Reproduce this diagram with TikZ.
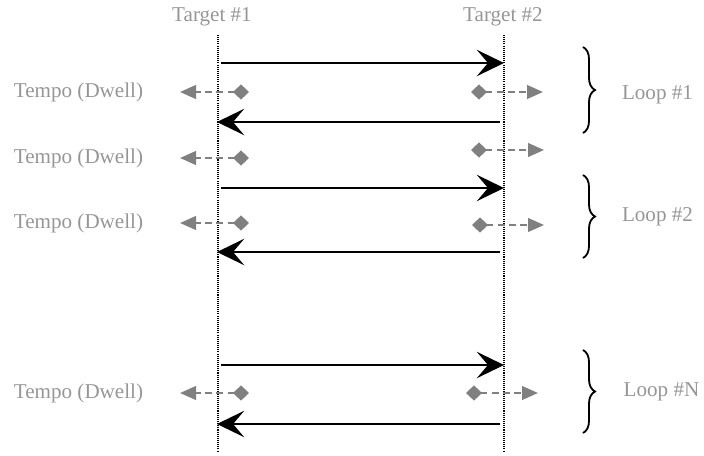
\documentclass[tikz,border=0pt]{standalone}
\usepackage{fontspec}
\setmainfont{Liberation Serif}
\usepackage{xcolor}
\usetikzlibrary{arrows.meta,decorations.pathreplacing}
\definecolor{dwelltext}{RGB}{150,150,150}
\definecolor{dwellgray}{RGB}{128,128,128}

\tikzset{
  lbl/.style={text=dwelltext, font=\fontsize{15}{18}\selectfont, inner sep=0pt},
  targetline/.style={line width=1.3pt, dash pattern=on 0.75pt off 0.75pt},
  move/.style={line width=1.4pt, -{Stealth[length=0.68cm, width=0.66cm, inset=0.28cm]}},
  dwell/.style={dwellgray, line width=1.6pt, dash pattern=on 5pt off 3pt,
    {Diamond[length=0.4cm, width=0.38cm]}-{Triangle[length=0.4cm, width=0.34cm]}},
  loopbrace/.style={decorate, decoration={brace, amplitude=0.3cm}, line width=1.3pt},
}

\begin{document}
\begin{tikzpicture}[x=0.025cm, y=-0.025cm]
\useasboundingbox (0,0) rectangle (704,455);

% the two targets
\node[lbl] (tgt1) at (212,17) {Target \#1};
\node[lbl] (tgt2) at (503,17) {Target \#2};
\coordinate (t1top) at (218,35);
\coordinate (t1bot) at (218,452);
\coordinate (t2top) at (504,35);
\coordinate (t2bot) at (504,452);
\draw[targetline] (t1top) -- (t1bot);
\draw[targetline] (t2top) -- (t2bot);

% moves out and back
\foreach \go/\back/\n in {63/122/1, 188/252/2, 365/424/N} {
  \coordinate (out\n) at (221,\go);
  \coordinate (hit\n) at (504,\go);
  \coordinate (ret\n) at (500,\back);
  \coordinate (home\n) at (217,\back);
  \draw[move] (out\n) -- (hit\n);
  \draw[move] (ret\n) -- (home\n);
}

% dwell at target 1
\foreach \y in {92,158,223,393} {
  \node[lbl] (tempo\y) at (78.5,\y) {Tempo (Dwell)};
  \coordinate (dwa\y) at (249,\y);
  \coordinate (dwb\y) at (180,\y);
  \draw[dwell] (dwa\y) -- (dwb\y);
}

% dwell at target 2
\foreach \y/\xa/\xb in {92/471/543, 150/471/544, 225/472/544, 393/466/538} {
  \coordinate (dwc\y) at (\xa,\y);
  \coordinate (dwd\y) at (\xb,\y);
  \draw[dwell] (dwc\y) -- (dwd\y);
}

% loops
\foreach \ya/\yb/\ly/\lx/\n in {47/133/95/657.5/1, 175/258/217/657.5/2, 350/433/392/661.5/N} {
  \coordinate (bra\n) at (583,\ya);
  \coordinate (brb\n) at (583,\yb);
  \draw[loopbrace] (bra\n) -- (brb\n);
  \node[lbl] (loop\n) at (\lx,\ly) {Loop \#\n};
}
\end{tikzpicture}
\end{document}
